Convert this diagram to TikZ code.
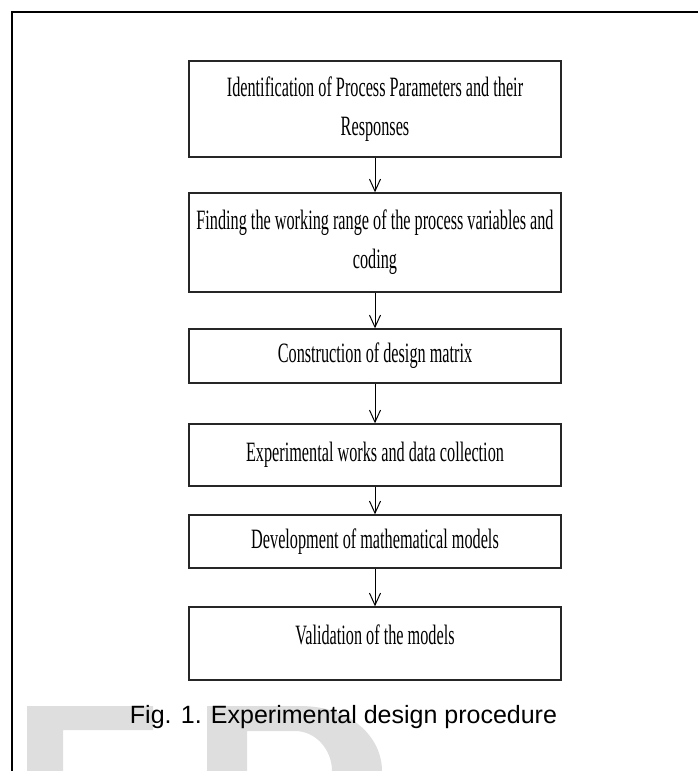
\documentclass[tikz,border=0pt]{standalone}
\usepackage{fontspec}
\usetikzlibrary{arrows.meta}
\newfontfamily\boxfont[FakeStretch=0.58]{Liberation Serif}
\newfontfamily\capfont{Liberation Sans}
\definecolor{markgray}{RGB}{222,222,222}

\begin{document}
\begin{tikzpicture}[x=1pt,y=-1pt,
    stage/.style={draw=black!85, line width=1.4pt, minimum width=372pt, inner sep=0pt,
      align=center, font=\boxfont\fontsize{28}{39}\selectfont},
    flow/.style={-{Straight Barb[length=12pt,width=11pt]}, line width=1pt}]
  \useasboundingbox (0,0) rectangle (698,771);

  % watermark letters
  \fill[markgray] (27,706) -- (153,706) -- (153,730) -- (63,730) -- (63,771) -- (27,771) -- cycle;
  \fill[markgray] (207,706) -- (300,706) .. controls (352,706) and (382,738) .. (382,771)
    -- (332,771) .. controls (332,750) and (316,731) .. (295,731) -- (247,731) -- (247,771)
    -- (207,771) -- cycle;

  % frame
  \draw[line width=2pt] (12,771) -- (12,12) -- (698,12);

  \node[stage, minimum height=96pt] (ident) at (375,109) {Identification of Process Parameters and their\\Responses};
  \node[stage, minimum height=99pt] (range) at (375,242.5) {Finding the working range of the process variables and\\coding};
  \node[stage, minimum height=54pt] (matrix) at (375,356) {Construction of design matrix};
  \node[stage, minimum height=62pt] (exper) at (375,455) {Experimental works and data collection};
  \node[stage, minimum height=53pt] (models) at (375,541.5) {Development of mathematical models};
  \node[stage, minimum height=73pt, text depth=18pt] (valid) at (375,643.5) {Validation of the models};

  \draw[flow] (ident.south) -- (range.north);
  \draw[flow] (range.south) -- (matrix.north);
  \draw[flow] (matrix.south) -- (exper.north);
  \draw[flow] (exper.south) -- (models.north);
  \draw[flow] (models.south) -- (valid.north);

  \node[font=\capfont\fontsize{25}{30}\selectfont] (caption) at (343.5,717) {Fig. 1. Experimental design procedure};
\end{tikzpicture}
\end{document}
